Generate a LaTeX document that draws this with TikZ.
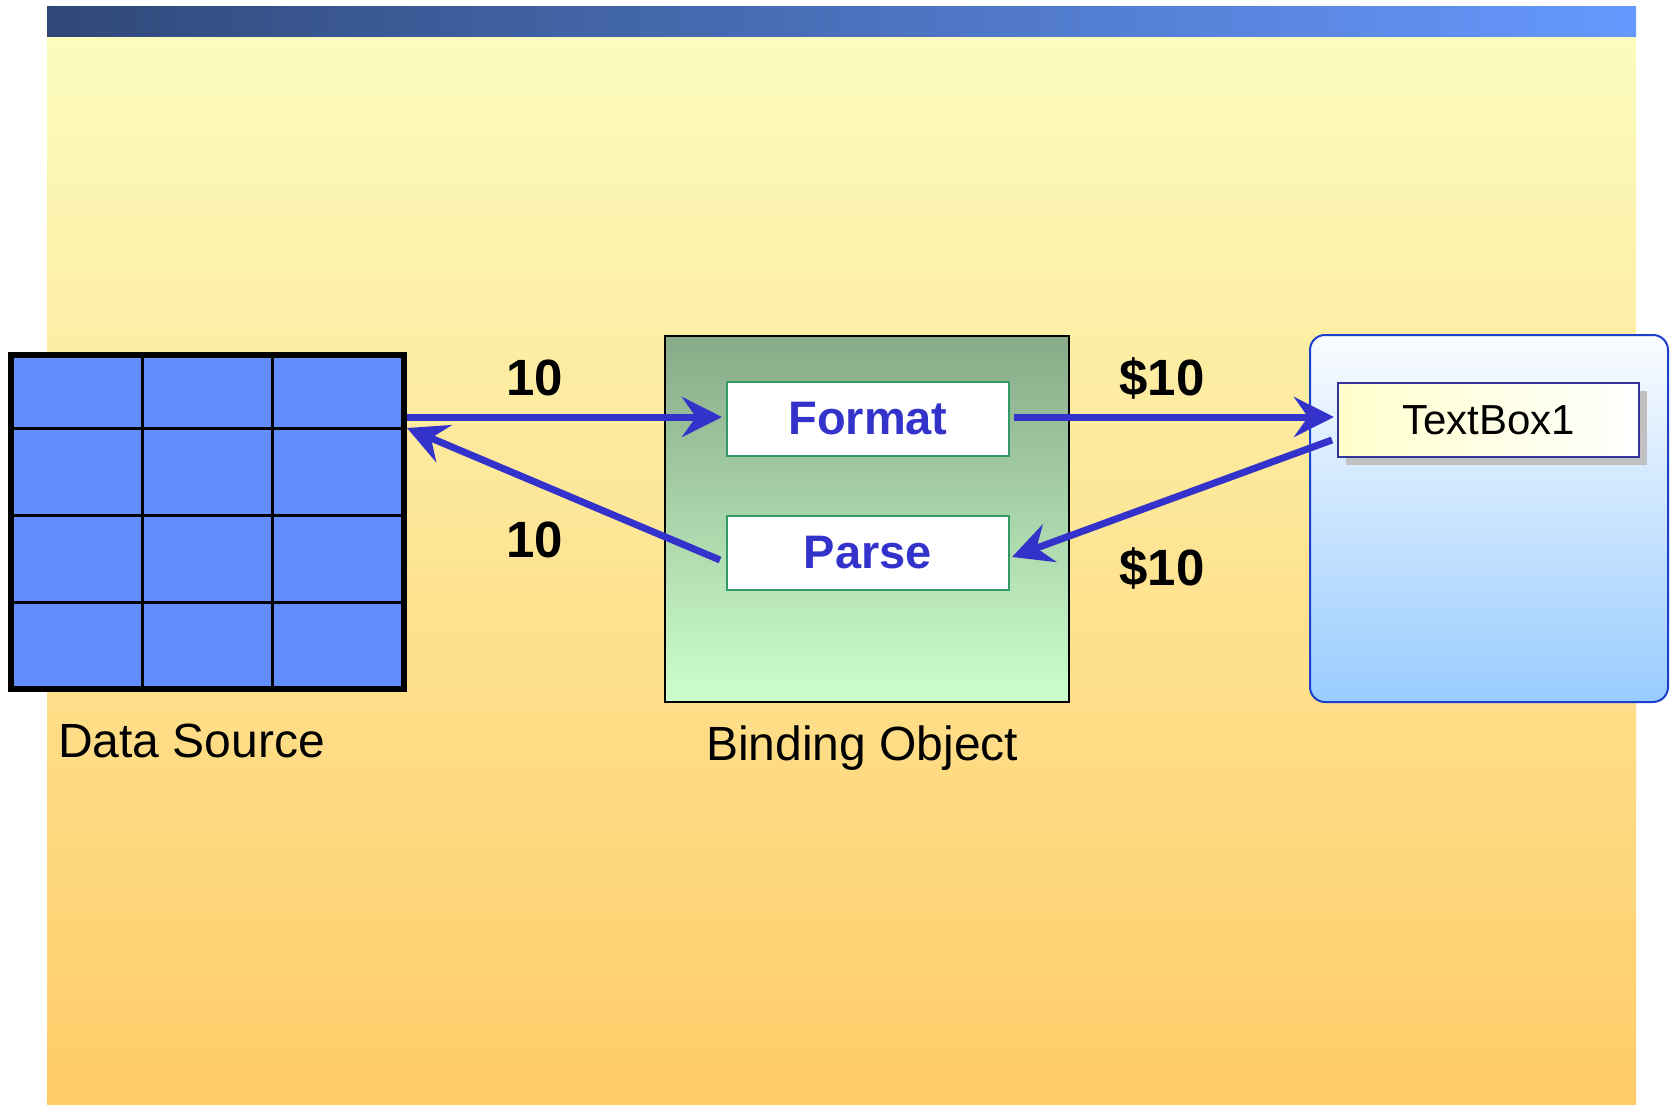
\documentclass[tikz,border=0pt]{standalone}
\usepackage{fontspec}
\setmainfont{Liberation Sans}
\usetikzlibrary{arrows.meta,shadows}
\definecolor{bgtop}{RGB}{252,252,190}
\definecolor{bgbot}{RGB}{255,204,104}
\definecolor{barL}{RGB}{47,72,120}
\definecolor{barR}{RGB}{102,153,255}
\definecolor{gridblue}{RGB}{98,142,252}
\definecolor{arrblue}{RGB}{51,51,204}
\definecolor{boxgreen}{RGB}{51,153,102}
\definecolor{bindtop}{RGB}{136,170,136}
\definecolor{bindbot}{RGB}{204,255,204}
\definecolor{tbtop}{RGB}{250,252,255}
\definecolor{tbbot}{RGB}{153,204,255}
\definecolor{tbborder}{RGB}{26,64,204}
\definecolor{tbedge}{RGB}{51,51,153}
\definecolor{tbyellow}{RGB}{255,255,204}
\definecolor{shadowgray}{RGB}{192,192,192}
\begin{document}
\begin{tikzpicture}[x=1pt,y=-1pt,
  arr/.style={draw=arrblue, line width=7pt, -{Stealth[length=40pt,width=40pt,inset=14pt]}},
  numlbl/.style={font=\fontsize{51}{60}\selectfont\bfseries, anchor=base, inner sep=0pt},
  caplbl/.style={font=\fontsize{48}{56}\selectfont, anchor=base west, inner sep=0pt},
  opbox/.style={draw=boxgreen, line width=2pt, fill=white, minimum width=282pt, minimum height=74pt, inner sep=0pt,
    text=arrblue, font=\fontsize{47}{56}\selectfont\bfseries},
  gridline/.style={line width=3pt, black}
]
\useasboundingbox (0,0) rectangle (1671,1104);
\fill[white] (0,0) rectangle (1671,1104);
\shade[top color=bgtop, bottom color=bgbot] (47,36) rectangle (1636,1104);
\shade[left color=barL, right color=barR] (47,6) rectangle (1636,36);

% Data source grid
\node[draw=black, line width=6pt, fill=gridblue, minimum width=393pt, minimum height=334pt, inner sep=0pt] (ds) at (207.5,522) {};
\draw[gridline] (142,355) -- (142,689);
\draw[gridline] (272,355) -- (272,689);
\draw[gridline] (11,428) -- (404,428);
\draw[gridline] (11,515) -- (404,515);
\draw[gridline] (11,602) -- (404,602);
\draw[line width=6pt] (11,355) rectangle (404,689);
\node[caplbl] (dslbl) at (58,757) {Data Source};

% Binding object
\node[draw=black, line width=2pt, top color=bindtop, bottom color=bindbot, minimum width=404pt, minimum height=366pt, inner sep=0pt] (bo) at (867,519) {};
\node[opbox] (fmt) at (868,419) {Format};
\node[opbox] (prs) at (868,552.5) {Parse};
\node[caplbl] (bolbl) at (706,760) {Binding Object};

% TextBox container
\node[draw=tbborder, line width=2pt, rounded corners=15pt, top color=tbtop, bottom color=tbbot, minimum width=358pt, minimum height=367pt, inner sep=0pt] (tbc) at (1489,518.5) {};
\node[draw=tbedge, line width=2pt, left color=tbyellow, right color=white, minimum width=301pt, minimum height=74pt, inner sep=0pt,
  drop shadow={shadow xshift=8pt, shadow yshift=-8pt, fill=shadowgray, opacity=1},
  font=\fontsize{42}{50}\selectfont] (tb1) at (1488.5,420) {TextBox1};

% Arrows
\draw[arr] (ds.east |- 0,417) -- ([xshift=-4pt]fmt.west |- 0,417);
\draw[arr] ([xshift=4pt]fmt.east |- 0,417) -- ([xshift=-3pt]tb1.west |- 0,417);
\draw[arr] ([xshift=-5pt,yshift=-20pt]tb1.west) -- ([xshift=2pt,yshift=-4.5pt]prs.east);
\draw[arr] ([xshift=-6pt,yshift=-7.5pt]prs.west) -- ([yshift=-76pt]ds.north east);

% Labels
\node[numlbl] (l1) at (535,395) {10};
\node[numlbl] (l2) at (535,557) {10};
\node[numlbl] (l3) at (1162,395) {\$10};
\node[numlbl] (l4) at (1162,585) {\$10};
\end{tikzpicture}
\end{document}
